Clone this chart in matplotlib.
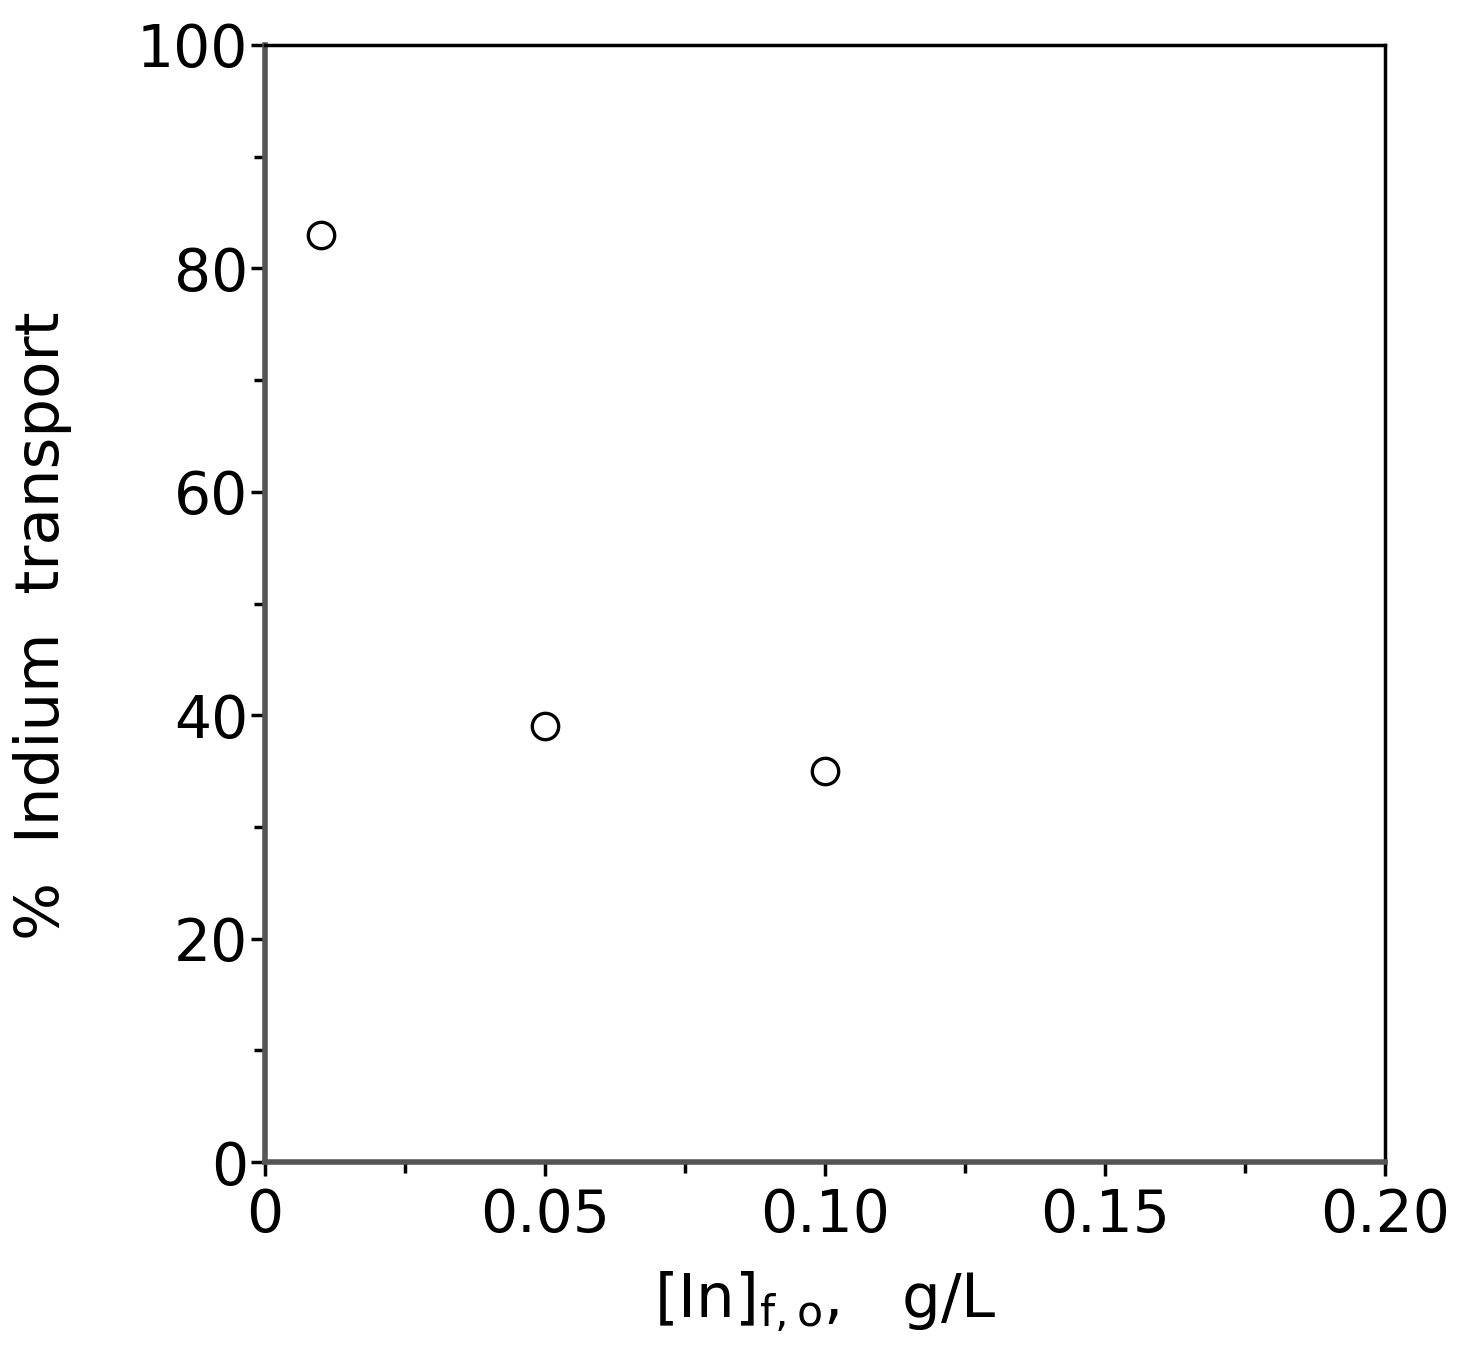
import numpy as np
import matplotlib.pyplot as plt
from matplotlib.ticker import MultipleLocator

# data
conc = [0.01, 0.05, 0.10]        # [In]f,o, g/L
transport = [83.0, 39.0, 35.0]   # % Indium transport

plt.rcParams['font.family'] = ['DejaVu Sans']

fig = plt.figure(figsize=(14.75, 13.62), dpi=100)
ax = fig.add_axes([0.1797, 0.1468, 0.7593, 0.8202])

ax.plot(conc, transport, 'o', mfc='none', mec='black', ms=19, mew=2.4)

ax.set_xlim(0, 0.20)
ax.set_ylim(0, 100)
ax.set_xticks([0, 0.05, 0.10, 0.15, 0.20])
ax.set_xticklabels(['0', '0.05', '0.10', '0.15', '0.20'])
ax.set_yticks([0, 20, 40, 60, 80, 100])
ax.xaxis.set_minor_locator(MultipleLocator(0.025))
ax.yaxis.set_minor_locator(MultipleLocator(10))

ax.tick_params(which='both', direction='out', labelsize=42, width=2.5)
ax.tick_params(axis='x', pad=8)
ax.tick_params(axis='y', pad=2)
ax.tick_params(which='major', length=10)
ax.tick_params(which='minor', length=8)

for s in ['left', 'bottom']:
    ax.spines[s].set_linewidth(4)
    ax.spines[s].set_color('#555555')
for s in ['top', 'right']:
    ax.spines[s].set_linewidth(2.5)
    ax.spines[s].set_color('black')

ax.set_xlabel('[In]$_{\\mathrm{f,o}}$,   g/L', fontsize=44, labelpad=18)
ax.set_ylabel('%  Indium  transport', fontsize=44)
ax.yaxis.set_label_coords(-0.172, 0.48)

fig.savefig('out.png', dpi=100)
